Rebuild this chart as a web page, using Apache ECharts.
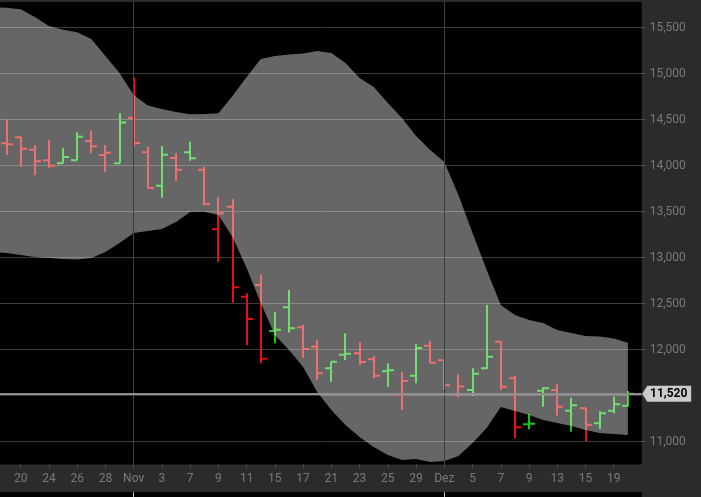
<!DOCTYPE html>
<html><head><meta charset="utf-8">
<script src="https://cdn.jsdelivr.net/npm/echarts@6/dist/echarts.min.js"></script>
<style>html,body{margin:0;padding:0;background:#2b2b2b;}#c{width:701px;height:497px;}</style>
</head><body><div id="c"></div><script>
// Trading days
const dates = ['2022-10-19','2022-10-20','2022-10-21','2022-10-24','2022-10-25','2022-10-26','2022-10-27','2022-10-28','2022-10-31',
'2022-11-01','2022-11-02','2022-11-03','2022-11-04','2022-11-07','2022-11-08','2022-11-09','2022-11-10','2022-11-11','2022-11-14','2022-11-15','2022-11-16','2022-11-17','2022-11-18','2022-11-21','2022-11-22','2022-11-23','2022-11-24','2022-11-25','2022-11-28','2022-11-29','2022-11-30',
'2022-12-01','2022-12-02','2022-12-05','2022-12-06','2022-12-07','2022-12-08','2022-12-09','2022-12-12','2022-12-13','2022-12-14','2022-12-15','2022-12-16','2022-12-19','2022-12-20'];
const open  = [14243,14310,14174,14059,14026,14059,14269,14116,14026,14522,14146,13783,14084,14146,13957,13309,13554,12576,12703,12203,12461,12244,12033,11798,11945,11961,11896,11765,11508,11717,12044,11885,11515,11562,11798,12087,11689,11189,11554,11562,11337,11363,11200,11337,11391];
const high  = [14504,14315,14222,14283,14189,14363,14377,14225,14570,14961,14207,14214,14135,14261,13989,13657,13635,12613,12812,12410,12649,12269,12105,11870,12178,12080,11932,11852,11761,12062,12098,11885,11733,11798,12486,12087,11714,11301,11591,11624,11478,11370,11334,11489,11551];
const low   = [14116,13989,13896,13978,14026,14059,14135,13935,14026,14207,13754,13652,13834,14054,13573,12957,12511,12051,11852,12070,12185,11913,11671,11652,11888,11834,11689,11598,11345,11635,11852,11562,11483,11497,11790,11562,11037,11135,11380,11283,11109,11000,11138,11309,11380];
const close = [14233,14185,14048,14000,14095,14315,14211,14141,14468,14247,13758,14120,13957,14081,13581,13483,12678,12334,11902,12217,12233,12008,11743,11870,11955,11866,11717,11776,11660,12019,11859,11613,11600,11739,11924,11598,11157,11196,11580,11380,11396,11185,11309,11407,11520];
// Bollinger band, from 2022-10-18 to 2022-12-20 (one day more on the left)
const bandUpper = [15725,15716,15700,15616,15519,15477,15449,15377,15193,15008,14769,14654,14616,14584,14559,14562,14570,14758,14964,15160,15193,15209,15220,15247,15225,15116,14953,14856,14682,14519,14323,14171,14040,13682,13268,12866,12486,12377,12323,12290,12214,12182,12149,12143,12122,12076];
const bandLower = [13062,13051,13029,13008,12997,12986,12980,12997,13062,13160,13268,13290,13312,13388,13497,13500,13464,13225,12888,12508,12160,11997,11812,11540,11345,11182,11051,10942,10855,10801,10812,10779,10790,10845,10986,11149,11377,11334,11290,11236,11203,11171,11127,11095,11084,11073];
// x-axis tick labels
const tickDates  = ['2022-10-20','2022-10-24','2022-10-26','2022-10-28','2022-11-01','2022-11-03','2022-11-07','2022-11-09','2022-11-11','2022-11-15','2022-11-17','2022-11-21','2022-11-23','2022-11-25','2022-11-29','2022-12-01','2022-12-05','2022-12-07','2022-12-09','2022-12-13','2022-12-15','2022-12-19'];
const tickLabels = ['20','24','26','28','Nov','3','7','9','11','15','17','21','23','25','29','Dez','5','7','9','13','15','19'];
const monthStarts = ['2022-11-01','2022-12-01'];
const lastPrice = 11520;

// layout constants
const X_MIN = 0.533, X_MAX = 45.98, Y_MIN = 10752, Y_MAX = 15779;
const RED = '#e01212', GREEN = '#10c810';

const pos = d => dates.indexOf(d) + 1;
const tickPos = tickDates.map(pos);
const labelMap = {}; tickPos.forEach((p,i)=>{ labelMap[p] = tickLabels[i]; });

const bars = dates.map((d,i)=>{
  const down = i === 0 ? close[i] < open[i] : close[i] < close[i-1];
  return [i+1, open[i], close[i], low[i], high[i], down ? 0 : 1];
});
// band rows: [x, upper, lower]; x of band point k is k (band starts one day before dates[0])
const bandRows = bandUpper.map((u,k)=>[k, u, bandLower[k]]);

function renderBar(params, api){
  const x = api.value(0);
  const pO = api.coord([x, api.value(1)]);
  const pC = api.coord([x, api.value(2)]);
  const pL = api.coord([x, api.value(3)]);
  const pH = api.coord([x, api.value(4)]);
  const col = api.value(5) ? GREEN : RED;
  const cx = Math.round(pO[0]);
  const st = {stroke: col, lineWidth: 2, fill: null};
  return {type:'group', children:[
    {type:'line', shape:{x1:cx, y1:pH[1], x2:cx, y2:pL[1]}, style:st},
    {type:'line', shape:{x1:cx-6, y1:pO[1], x2:cx, y2:pO[1]}, style:st},
    {type:'line', shape:{x1:cx, y1:pC[1], x2:cx+6, y2:pC[1]}, style:st}
  ]};
}

function renderBand(params, api){
  if (params.dataIndex !== 0) return null;
  const up = bandRows.map(r => api.coord([r[0], r[1]]));
  const lo = bandRows.map(r => api.coord([r[0], r[2]])).reverse();
  const cs = params.coordSys;
  return {type:'polygon', shape:{points: up.concat(lo)},
    style:{fill:'rgba(255,255,255,0.4)', stroke:null},
    clipPath:{type:'rect', shape:{x:cs.x, y:cs.y, width:cs.width, height:cs.height}}};
}

const chart = echarts.init(document.getElementById('c'), null, {renderer:'canvas'});
chart.setOption({
  animation: false,
  backgroundColor: '#2b2b2b',
  textStyle: {fontFamily: 'Roboto'},
  grid: [
    {left:0, right:59.3, top:2, bottom:32.5, show:true, backgroundColor:'#000', borderWidth:0},
    {left:0, right:59.3, top:492, height:5, show:true, backgroundColor:'#000', borderWidth:0}
  ],
  xAxis: [
    {type:'value', gridIndex:0, min:X_MIN, max:X_MAX,
      splitLine:{show:false}, axisLine:{show:false},
      axisTick:{show:true, customValues: tickPos, length:3, lineStyle:{color:'#555'}},
      axisLabel:{customValues: tickPos, formatter: v => labelMap[v] || '', color:'#7a7a7a', fontSize:12, margin:8}},
    {type:'value', gridIndex:1, min:X_MIN, max:X_MAX, show:false, splitLine:{show:false}}
  ],
  yAxis: [
    {type:'value', gridIndex:0, position:'right', min:Y_MIN, max:Y_MAX, minInterval:500, maxInterval:500, splitNumber:10,
      axisLine:{show:false},
      axisTick:{show:true, length:4, lineStyle:{color:'#555'}},
      axisLabel:{color:'#7a7a7a', fontSize:12, margin:8, showMinLabel:false, showMaxLabel:false,
        formatter: v => (v % 500 === 0 ? v.toLocaleString('en-US') : '')},
      splitLine:{show:true, showMinLine:false, showMaxLine:false, lineStyle:{color:'#3c3c3c', width:1}}},
    {type:'value', gridIndex:1, show:false, min:0, max:1, splitLine:{show:false}}
  ],
  series: [
    {type:'line', xAxisIndex:0, yAxisIndex:0, data:[], z:1, clip:false, silent:true,
      markLine:{silent:true, symbol:['none','none'], animation:false,
        data:[
          ...monthStarts.map(d=>({xAxis: pos(d), lineStyle:{color:'#404040', width:1, type:'solid'}, label:{show:false}})),
          {yAxis: lastPrice, lineStyle:{color:'#8e8e8e', width:2, type:'solid'}, label:{show:false}}
        ]}},
    {type:'custom', xAxisIndex:0, yAxisIndex:0, renderItem: renderBar, data: bars, z:2, clip:true,
      encode:{x:0, y:[1,2,3,4]}},
    {type:'custom', xAxisIndex:0, yAxisIndex:0, renderItem: renderBand, data: bandRows, z:3, clip:true, silent:true,
      encode:{x:0, y:[1,2]}},
    {type:'line', xAxisIndex:0, yAxisIndex:0, data:[], z:6, clip:false, silent:true,
      markPoint:{silent:true, animation:false,
        data:[{coord:[X_MAX, lastPrice], symbol:'path://M0,8L5,0H49V16H5Z', symbolSize:[49,16], symbolKeepAspect:false,
          symbolOffset:[25,0], itemStyle:{color:'#cbcbcb'},
          label:{show:true, position:'inside', offset:[2,0], formatter: lastPrice.toLocaleString('en-US'), color:'#000', fontSize:12, fontWeight:'bold'}}]}},
    {type:'line', xAxisIndex:1, yAxisIndex:1, data:[], clip:false, silent:true,
      markLine:{silent:true, symbol:['none','none'], animation:false,
        data: monthStarts.map(d=>({xAxis: pos(d), lineStyle:{color:'#bbbbbb', width:1, type:'solid'}, label:{show:false}}))}}
  ]
});
</script></body></html>
